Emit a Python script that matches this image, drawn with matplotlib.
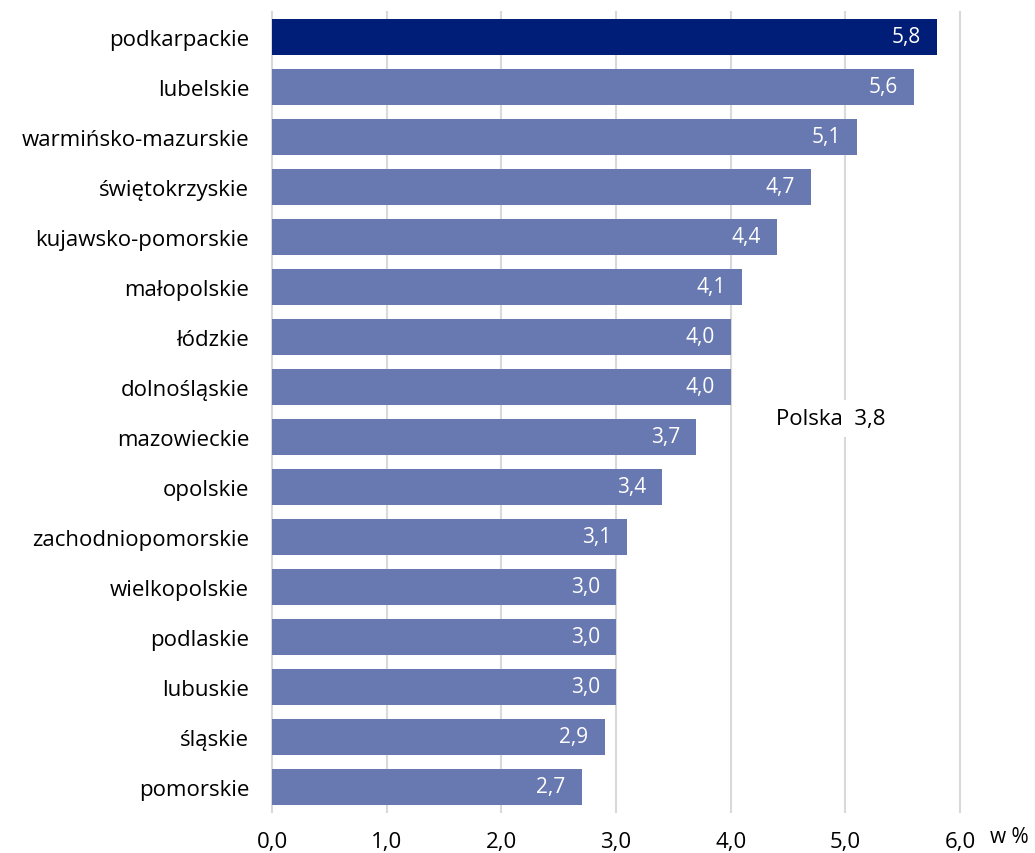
import matplotlib.pyplot as plt

wojewodztwa = ["podkarpackie", "lubelskie", "warmińsko-mazurskie", "świętokrzyskie",
               "kujawsko-pomorskie", "małopolskie", "łódzkie", "dolnośląskie",
               "mazowieckie", "opolskie", "zachodniopomorskie", "wielkopolskie",
               "podlaskie", "lubuskie", "śląskie", "pomorskie"]
wartosci = [5.8, 5.6, 5.1, 4.7, 4.4, 4.1, 4.0, 4.0, 3.7, 3.4, 3.1, 3.0, 3.0, 3.0, 2.9, 2.7]
polska = 3.8
x_ticks = [0, 1, 2, 3, 4, 5, 6]

plt.rcParams['font.family'] = ['Open Sans', 'DejaVu Sans']

fig = plt.figure(figsize=(10.35, 8.54), dpi=100)
ax = fig.add_axes([272 / 1035, 1 - 813 / 854, (960 - 272) / 1035, 800 / 854])

kolory = ['#001e78' if i == 0 else '#6878b0' for i in range(len(wartosci))]
pozycje = list(range(len(wartosci)))
ax.barh(pozycje, wartosci, height=0.72, color=kolory, zorder=3)

for y, v in zip(pozycje, wartosci):
    ax.text(v - 0.14, y, f"{v:.1f}".replace('.', ','), ha='right', va='center',
            color='white', fontsize=15, zorder=4)

ax.set_xlim(0, 6)
ax.set_ylim(15.5, -0.5)
ax.set_yticks(pozycje)
ax.set_yticklabels(wojewodztwa, fontsize=16)
ax.set_xticks(x_ticks)
ax.set_xticklabels([f"{t:.1f}".replace('.', ',') for t in x_ticks], fontsize=16)
ax.tick_params(length=0)
ax.tick_params(axis='y', pad=16.5)
ax.tick_params(axis='x', pad=14)

for t in x_ticks:
    ax.axvline(t, color='#d9d9d9', linewidth=1.5, zorder=1, clip_on=False)
for s in ax.spines.values():
    s.set_visible(False)

ax.text(4.395, 7.63, "Polska  " + f"{polska:.1f}".replace('.', ','), ha='left', va='center',
        fontsize=16, zorder=5,
        bbox=dict(facecolor='white', edgecolor='none', pad=6))
fig.text(990 / 1035, 1 - 838 / 854, "w %", ha='left', va='center', fontsize=15)

fig.savefig("out.png", dpi=100)
